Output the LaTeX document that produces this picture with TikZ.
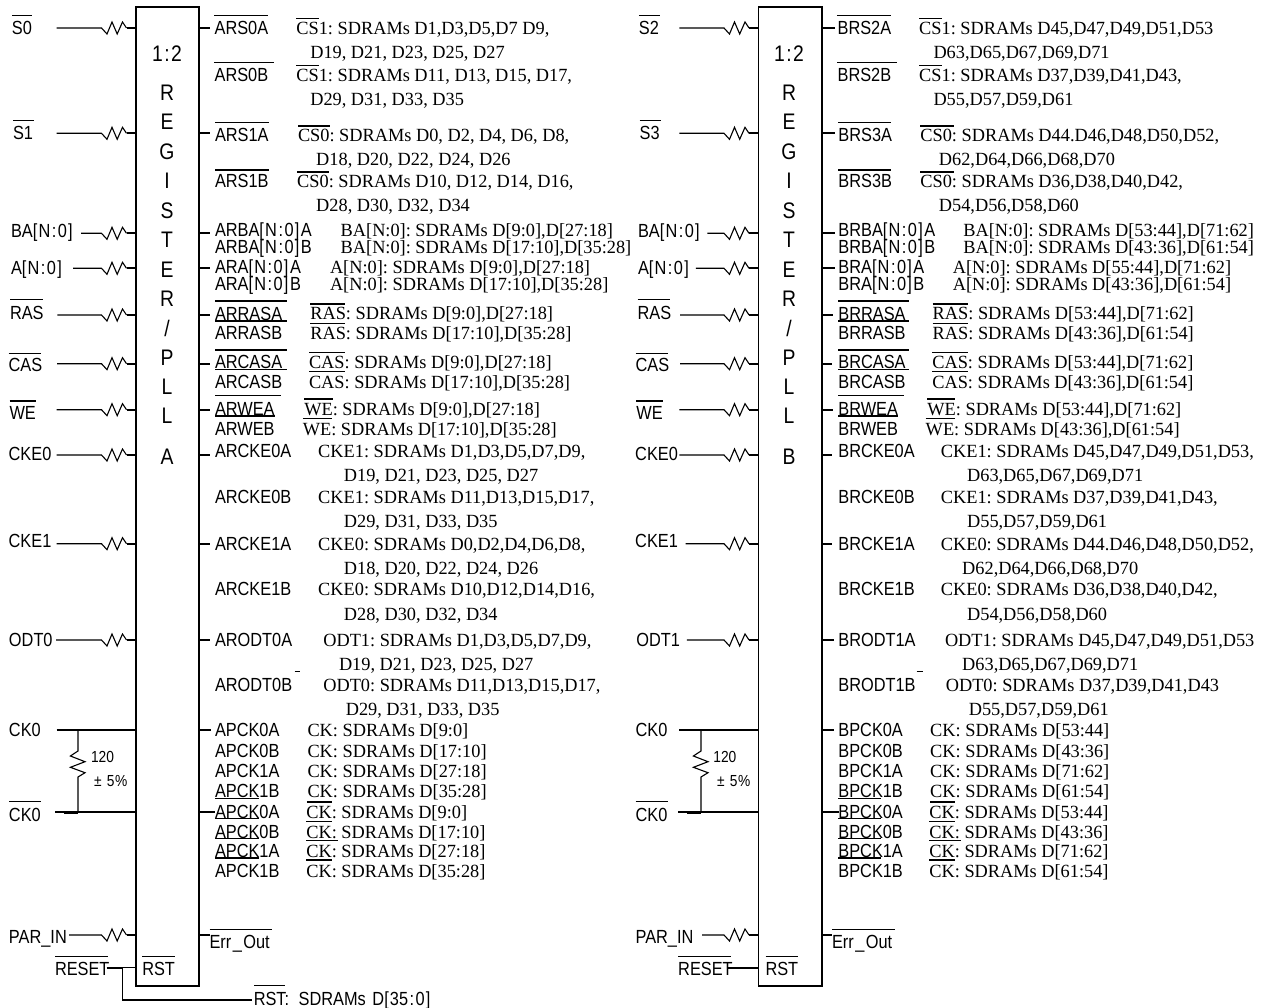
\documentclass[tikz,border=0pt]{standalone}
\usepackage{fontspec}
\usetikzlibrary{calc}
\setmainfont{Liberation Serif}
\newfontfamily\narrowfont[FakeStretch=0.86]{Liberation Sans}
\newfontfamily\serifnarrow[FakeStretch=0.985]{Liberation Serif}
\newcount\nodeidx
\newcommand{\NZ}{[\kern1.2pt N\kern1.5pt:\kern1.5pt0\kern1.2pt]\kern1.5pt}
\newcommand{\usc}{\kern1.5pt\_\kern1.5pt}
\tikzset{
  wirethin/.style={line width=1.1pt,draw=black},
  wirethick/.style={line width=1.7pt,draw=black},
  barline/.style={line width=1.2pt,draw=black},
  chipbox/.style={draw=black,line width=1.8pt,inner sep=0pt,outer sep=0pt,minimum width=63pt,minimum height=979pt},
  pinlab/.style={anchor=base west,inner sep=0pt,outer sep=0pt,font=\narrowfont\fontsize{19}{20}\selectfont},
  deslab/.style={anchor=base west,inner sep=0pt,outer sep=0pt,font=\frenchspacing\serifnarrow\fontsize{18.6}{20}\selectfont},
  chiplet/.style={anchor=base,inner sep=0pt,outer sep=0pt,font=\narrowfont\fontsize{22.5}{25}\selectfont},
  smalllab/.style={anchor=base west,inner sep=0pt,outer sep=0pt,font=\narrowfont\fontsize{16}{18}\selectfont}
}
\newcommand{\txS}[3]{\global\advance\nodeidx by 1 \node[pinlab] (n\the\nodeidx) at (#1,#2) {#3};}
\newcommand{\txR}[3]{\global\advance\nodeidx by 1 \node[deslab] (n\the\nodeidx) at (#1,#2) {#3};}
\newcommand{\txC}[3]{\global\advance\nodeidx by 1 \node[chiplet] (n\the\nodeidx) at (#1,#2) {#3};}
\newcommand{\txM}[3]{\global\advance\nodeidx by 1 \node[smalllab] (n\the\nodeidx) at (#1,#2) {#3};}
\newcommand{\ovl}[3]{\draw[barline] (#1,#3) -- (#2,#3);}
% input with resistor: name, x start, y, box
\newcommand{\inres}[4]{\coordinate (#1) at (#2,#3);
  \draw[wirethin] (#1) -- ($(#4.west |- #1)+(-34.5,0)$) -- ++(5.5,6) -- ++(5,-12) -- ++(5.2,12) -- ++(5.3,-12) -- ++(4,6) coordinate (#1e);
  \draw[wirethick] (#1e) -- (#4.west |- #1e);}
% output tick: name, x end, y, box
\newcommand{\outick}[4]{\coordinate (#1) at (#2,#3); \draw[wirethick] (#4.east |- #1) -- (#1);}
\begin{document}
\begin{tikzpicture}[x=1pt,y=-1pt]
\useasboundingbox (0,0) rectangle (1263,1008);
\node[chipbox] (rega) at (167.5,496.2) {};
\node[chipbox,minimum width=63.5pt] (regb) at (790.25,496.2) {};
% ------------ chip lettering
\foreach \t/\y in {1\kern1.5pt:\kern1.5pt2/61.7,R/100.7,E/129.3,G/159.3,I/188.7,S/218.3,T/247.3,E/277.3,R/306.7,{/}/336,P/365,L/394.3,L/423.3,A/464}{\txC{167}{\y}{\t}}
\foreach \t/\y in {1\kern1.5pt:\kern1.5pt2/61.7,R/100.7,E/129.3,G/159.3,I/188.7,S/218.3,T/247.3,E/277.3,R/306.7,{/}/336,P/365,L/394.3,L/423.3,B/464}{\txC{789}{\y}{\t}}
% ------------ A inputs
\inres{as0}{56.5}{28}{rega} \txS{12}{35}{S0} \ovl{12}{32.4}{15.7}
\inres{as1}{56.5}{133.3}{rega} \txS{13}{140}{S1} \ovl{13}{33.6}{120.7}
\inres{aba}{81}{233.3}{rega} \txS{11}{237.3}{BA\NZ}
\inres{aaa}{73}{268.3}{rega} \txS{11}{275}{A\NZ}
\inres{aras}{57.3}{315}{rega} \txS{10}{319}{RAS} \ovl{10}{42.7}{299.3}
\inres{acas}{57}{363.7}{rega} \txS{8.7}{371.7}{CAS} \ovl{8.7}{40.7}{353.7}
\inres{awe}{56.5}{409.7}{rega} \txS{9.5}{419.3}{WE} \ovl{9.5}{35.6}{401}
\inres{acke0}{56.5}{455}{rega} \txS{8.7}{460}{CKE0}
\inres{acke1}{56.5}{543.7}{rega} \txS{8.7}{547.3}{CKE1}
\inres{aodt}{56}{640}{rega} \txS{9}{646.7}{ODT0}
\inres{apar}{69}{935}{rega} \txS{9}{943}{PAR\_IN}
\coordinate (ack) at (56.5,730); \draw[wirethick] (ack) -- (rega.west |- ack); \txS{9}{736.7}{CK0}
\coordinate (ackb) at (55,812); \draw[wirethick] (ackb) -- (rega.west |- ackb); \txS{9}{821}{CK0} \ovl{9}{41}{801.7}
\draw[line width=2.4pt] (64,812.5) -- (78,812.5);
\coordinate (ark) at (78,730); \coordinate (arkb) at (78,812);
\draw[wirethin] (ark) -- (78,751) -- (70.4,756) -- (85,761.7) -- (70.4,767.3) -- (85,772.7) -- (78,777) -- (arkb);
\txM{91}{762.3}{120} \txM{94}{786.7}{±\kern1.5pt\ 5\kern.7pt\%}
\coordinate (arst) at (106.7,967.7); \txS{55}{975.7}{RESET} \ovl{55}{107.6}{956.7}
\coordinate (ajn) at (122.5,967.7); \coordinate (ajd) at (122.5,1000); \coordinate (arstout) at (251.8,1000);
\draw[wirethick] (arst) -- (ajn) -- (ajd) -- (arstout); \draw[wirethin] (ajn) -- (rega.west |- ajn);
\txS{142.3}{975.7}{RST} \ovl{142}{175}{956.7}
\txS{253.8}{1005}{RST:\kern5pt\ SDRAMs\kern2pt\ D[\kern1.2pt 35\kern1.5pt:\kern1.5pt0\kern1.2pt]} \ovl{254}{285}{985.7}
% ------------ A outputs
\outick{ao1}{210}{28}{rega} \outick{ao2}{210}{133.3}{rega} \outick{ao3}{210}{233.3}{rega} \outick{ao4}{210}{268.3}{rega}
\outick{ao5}{210}{315}{rega} \outick{ao6}{210}{363.7}{rega} \outick{ao7}{210}{409.7}{rega} \outick{ao8}{210}{455}{rega}
\outick{ao9}{210}{543.7}{rega} \outick{ao10}{210}{640}{rega} \outick{ao11}{211}{730}{rega} \outick{ao12}{215}{812}{rega} \outick{ao13}{209.5}{935}{rega}
\txS{214.6}{35}{ARS0A} \ovl{214}{267.6}{15.7}
\txR{296.4}{34.5}{CS1: SDRAMs D1,D3,D5,D7 D9,} \ovl{296.4}{319.4}{18.3}
\txR{310.3}{59}{D19, D21, D23, D25, D27}
\txS{214.6}{81.7}{ARS0B} \ovl{214}{273.5}{62.7}
\txR{296.4}{81.7}{CS1: SDRAMs D11, D13, D15, D17,} \ovl{296.4}{319.4}{65.7}
\txR{310.3}{106}{D29, D31, D33, D35}
\txS{215}{141.7}{ARS1A} \ovl{215}{268.8}{122.7}
\txR{298}{141.7}{CS0: SDRAMs D0, D2, D4, D6, D8,} \ovl{298}{330}{126}
\txR{316.2}{166}{D18, D20, D22, D24, D26}
\txS{215}{187.7}{ARS1B} \ovl{215}{268.8}{170}
\txR{297.2}{187.7}{CS0: SDRAMs D10, D12, D14, D16,} \ovl{297}{329}{172}
\txR{316.2}{212}{D28, D30, D32, D34}
\txS{215}{236.7}{ARBA\NZ A} \txR{340.7}{236.7}{BA[N:0]: SDRAMs D[9:0],D[27:18]}
\txS{215}{253.3}{ARBA\NZ B} \txR{340.7}{253.3}{BA[N:0]: SDRAMs D[17:10],D[35:28]}
\txS{215}{273.6}{ARA\NZ A} \txR{330}{273.6}{A[N:0]: SDRAMs D[9:0],D[27:18]}
\txS{215}{290.4}{ARA\NZ B} \txR{330}{290.4}{A[N:0]: SDRAMs D[17:10],D[35:28]}
\txS{215}{320}{ARRASA} \ovl{215}{286.5}{301} \ovl{215}{286.5}{321}
\txR{310.3}{319.5}{RAS: SDRAMs D[9:0],D[27:18]} \ovl{310.3}{345}{304} \ovl{310.3}{345}{323.3}
\txS{215}{339.3}{ARRASB} \txR{310.3}{339.3}{RAS: SDRAMs D[17:10],D[35:28]}
\txS{215}{368.3}{ARCASA} \ovl{215}{286.5}{350} \ovl{215}{286.5}{369.3}
\txR{309}{368.3}{CAS: SDRAMs D[9:0],D[27:18]} \ovl{309}{344.7}{352.7} \ovl{309}{344.7}{371.7}
\txS{215}{388.3}{ARCASB} \txR{309}{388.3}{CAS: SDRAMs D[17:10],D[35:28]}
\txS{215}{415}{ARWEA} \ovl{215}{281.4}{395.7} \ovl{215}{274.7}{416}
\txR{304.3}{415}{WE: SDRAMs D[9:0],D[27:18]} \ovl{304.3}{332.8}{399} \ovl{302.8}{332}{418.3}
\txS{215}{435}{ARWEB} \txR{302.8}{435}{WE: SDRAMs D[17:10],D[35:28]}
\txS{215}{457.7}{ARCKE0A} \txR{318.2}{457.7}{CKE1: SDRAMs D1,D3,D5,D7,D9,}
\txR{343.9}{481.7}{D19, D21, D23, D25, D27}
\txS{215}{503.3}{ARCKE0B} \txR{318.2}{503.3}{CKE1: SDRAMs D11,D13,D15,D17,}
\txR{343.9}{527.7}{D29, D31, D33, D35}
\txS{215}{550}{ARCKE1A} \txR{318.2}{550}{CKE0: SDRAMs D0,D2,D4,D6,D8,}
\txR{343.9}{574}{D18, D20, D22, D24, D26}
\txS{215}{595.7}{ARCKE1B} \txR{318.2}{595.7}{CKE0: SDRAMs D10,D12,D14,D16,}
\txR{343.9}{620}{D28, D30, D32, D34}
\txS{215}{646}{ARODT0A} \txR{323.3}{646}{ODT1: SDRAMs D1,D3,D5,D7,D9,}
\txR{339}{670}{D19, D21, D23, D25, D27} \ovl{294.5}{299.6}{671.7}
\txS{215}{691.7}{ARODT0B} \txR{323.3}{691.7}{ODT0: SDRAMs D11,D13,D15,D17,}
\txR{345.8}{715}{D29, D31, D33, D35}
\txS{215}{736.7}{APCK0A} \txR{307.5}{736.7}{CK: SDRAMs D[9:0]}
\txS{215}{757.3}{APCK0B} \txR{307.5}{757.3}{CK: SDRAMs D[17:10]}
\txS{215}{777.3}{APCK1A} \txR{307.5}{777.3}{CK: SDRAMs D[27:18]}
\txS{215}{797.3}{APCK1B} \txR{307.5}{797.3}{CK: SDRAMs D[35:28]} \ovl{215}{258.5}{798.7}
\txS{215}{818}{APCK0A} \txR{306.3}{818}{CK: SDRAMs D[9:0]} \ovl{215}{258.5}{818.7} \ovl{306.8}{332}{802} \ovl{306.3}{332}{821.3}
\txS{215}{838}{APCK0B} \txR{306.3}{838}{CK: SDRAMs D[17:10]} \ovl{215}{258.5}{838.5} \ovl{306.3}{338}{840.3}
\txS{215}{857.3}{APCK1A} \txR{306.3}{857.3}{CK: SDRAMs D[27:18]} \ovl{215}{258.5}{858} \ovl{306.3}{332}{860}
\txS{215}{877.3}{APCK1B} \txR{306.3}{877.3}{CK: SDRAMs D[35:28]}
\txS{209.5}{948.3}{Err\usc Out} \ovl{209.5}{272}{929.3}
% ------------ B inputs
\inres{bs0}{679.4}{28}{regb} \txS{638.9}{35}{S2} \ovl{638.9}{660.2}{15.7}
\inres{bs1}{679.4}{133.3}{regb} \txS{639.7}{140}{S3} \ovl{639.7}{661}{120.7}
\inres{bba}{707.3}{233.3}{regb} \txS{638}{237.3}{BA\NZ}
\inres{baa}{695.8}{268.3}{regb} \txS{638}{275}{A\NZ}
\inres{bras}{680}{315}{regb} \txS{637.6}{319}{RAS} \ovl{637.6}{670}{299.3}
\inres{bcas}{680}{363.7}{regb} \txS{635.6}{371.7}{CAS} \ovl{635.6}{668}{353.7}
\inres{bwe}{679.4}{409.7}{regb} \txS{636.4}{419.3}{WE} \ovl{636.4}{663}{401}
\inres{bcke0}{679.4}{455}{regb} \txS{635.2}{460}{CKE0}
\inres{bcke1}{685.6}{543.7}{regb} \txS{635.2}{547.3}{CKE1}
\inres{bodt}{686.8}{640}{regb} \txS{636.4}{646.7}{ODT1}
\inres{bpar}{702}{935}{regb} \txS{635.6}{943}{PAR\_IN}
\coordinate (bck) at (679.4,730); \draw[wirethick] (bck) -- (regb.west |- bck); \txS{635.6}{736.7}{CK0}
\coordinate (bckb) at (678,812); \draw[wirethick] (bckb) -- (regb.west |- bckb); \txS{635.6}{821}{CK0} \ovl{635.6}{668}{801.7}
\draw[line width=2.4pt] (686.8,812.5) -- (701,812.5);
\coordinate (brk) at (701,730); \coordinate (brkb) at (701,812);
\draw[wirethin] (brk) -- (701,751) -- (693.4,756) -- (708,761.7) -- (693.4,767.3) -- (708,772.7) -- (701,777) -- (brkb);
\txM{713.4}{762.3}{120} \txM{717}{786.7}{±\kern1.5pt\ 5\kern.7pt\%}
\coordinate (brst) at (727.4,967.7); \draw[wirethick] (brst) -- (regb.west |- brst); \txS{678.2}{975.7}{RESET} \ovl{678}{730.7}{956.7}
\txS{765.5}{975.7}{RST} \ovl{765.5}{797.5}{956.7}
% ------------ B outputs
\outick{bo1}{835}{28}{regb} \outick{bo2}{835}{133.3}{regb} \outick{bo3}{835}{233.3}{regb} \outick{bo4}{835}{268.3}{regb}
\outick{bo5}{833}{315}{regb} \outick{bo6}{832}{363.7}{regb} \outick{bo7}{833}{409.7}{regb} \outick{bo8}{832}{455}{regb}
\outick{bo9}{832}{543.7}{regb} \outick{bo10}{834.3}{640}{regb} \outick{bo11}{834}{730}{regb} \outick{bo12}{839}{812}{regb} \outick{bo13}{832}{935}{regb}
\txS{837.6}{35}{BRS2A} \ovl{836.8}{890.5}{15.7}
\txR{919.2}{34.5}{CS1: SDRAMs D45,D47,D49,D51,D53} \ovl{919.2}{941.7}{18.3}
\txR{933.5}{59}{D63,D65,D67,D69,D71}
\txS{837.6}{81.7}{BRS2B} \ovl{837}{896.6}{62.7}
\txR{919.2}{81.7}{CS1: SDRAMs D37,D39,D41,D43,} \ovl{919.2}{941.7}{65.7}
\txR{933.5}{106}{D55,D57,D59,D61}
\txS{838.4}{141.7}{BRS3A} \ovl{838.4}{891.3}{122.7}
\txR{920.4}{141.7}{CS0: SDRAMs D44.D46,D48,D50,D52,} \ovl{920.4}{954}{126}
\txR{938.9}{166}{D62,D64,D66,D68,D70}
\txS{838.4}{187.7}{BRS3B} \ovl{838.4}{891.3}{170}
\txR{920.4}{187.7}{CS0: SDRAMs D36,D38,D40,D42,} \ovl{920.4}{954}{172}
\txR{938.9}{212}{D54,D56,D58,D60}
\txS{838.4}{236.7}{BRBA\NZ A} \txR{963.4}{236.7}{BA[N:0]: SDRAMs D[53:44],D[71:62]}
\txS{838.4}{253.3}{BRBA\NZ B} \txR{963.4}{253.3}{BA[N:0]: SDRAMs D[43:36],D[61:54]}
\txS{838.4}{273.6}{BRA\NZ A} \txR{952.8}{273.6}{A[N:0]: SDRAMs D[55:44],D[71:62]}
\txS{838.4}{290.4}{BRA\NZ B} \txR{952.8}{290.4}{A[N:0]: SDRAMs D[43:36],D[61:54]}
\txS{838.4}{320}{BRRASA} \ovl{838.4}{909.3}{301} \ovl{838.4}{909.3}{321}
\txR{932.7}{319.5}{RAS: SDRAMs D[53:44],D[71:62]} \ovl{932.7}{968.4}{304} \ovl{932.7}{968.4}{323.3}
\txS{838.4}{339.3}{BRRASB} \txR{932.7}{339.3}{RAS: SDRAMs D[43:36],D[61:54]}
\txS{838.4}{368.3}{BRCASA} \ovl{838.4}{909.3}{350} \ovl{838.4}{909.3}{369.3}
\txR{932.3}{368.3}{CAS: SDRAMs D[53:44],D[71:62]} \ovl{932.3}{968}{352.7} \ovl{932.3}{968}{371.7}
\txS{838.4}{388.3}{BRCASB} \txR{932.3}{388.3}{CAS: SDRAMs D[43:36],D[61:54]}
\txS{838.4}{415}{BRWEA} \ovl{838.4}{903.6}{395.7} \ovl{838.4}{897.5}{416}
\txR{927.4}{415}{WE: SDRAMs D[53:44],D[71:62]} \ovl{927.4}{955.2}{399} \ovl{925.7}{955}{418.3}
\txS{838.4}{435}{BRWEB} \txR{925.7}{435}{WE: SDRAMs D[43:36],D[61:54]}
\txS{838.4}{457.7}{BRCKE0A} \txR{940.9}{457.7}{CKE1: SDRAMs D45,D47,D49,D51,D53,}
\txR{967.1}{481.7}{D63,D65,D67,D69,D71}
\txS{838.4}{503.3}{BRCKE0B} \txR{940.9}{503.3}{CKE1: SDRAMs D37,D39,D41,D43,}
\txR{967.1}{527.7}{D55,D57,D59,D61}
\txS{838.4}{550}{BRCKE1A} \txR{940.9}{550}{CKE0: SDRAMs D44.D46,D48,D50,D52,}
\txR{962.2}{574}{D62,D64,D66,D68,D70}
\txS{838.4}{595.7}{BRCKE1B} \txR{940.9}{595.7}{CKE0: SDRAMs D36,D38,D40,D42,}
\txR{967.1}{620}{D54,D56,D58,D60}
\txS{838.4}{646}{BRODT1A} \txR{945}{646}{ODT1: SDRAMs D45,D47,D49,D51,D53}
\txR{962.2}{670}{D63,D65,D67,D69,D71} \ovl{916.7}{922.5}{671.7}
\txS{838.4}{691.7}{BRODT1B} \txR{945.8}{691.7}{ODT0: SDRAMs D37,D39,D41,D43}
\txR{968.8}{715}{D55,D57,D59,D61}
\txS{838.4}{736.7}{BPCK0A} \txR{930.2}{736.7}{CK: SDRAMs D[53:44]}
\txS{838.4}{757.3}{BPCK0B} \txR{930.2}{757.3}{CK: SDRAMs D[43:36]}
\txS{838.4}{777.3}{BPCK1A} \txR{930.2}{777.3}{CK: SDRAMs D[71:62]}
\txS{838.4}{797.3}{BPCK1B} \txR{930.2}{797.3}{CK: SDRAMs D[61:54]} \ovl{838.4}{880.7}{798.7}
\txS{838.4}{818}{BPCK0A} \txR{929.4}{818}{CK: SDRAMs D[53:44]} \ovl{838.4}{880.7}{818.7} \ovl{930}{955}{802} \ovl{929.4}{955}{821.3}
\txS{838.4}{838}{BPCK0B} \txR{929.4}{838}{CK: SDRAMs D[43:36]} \ovl{838.4}{880.7}{838.5} \ovl{929.4}{961}{840.3}
\txS{838.4}{857.3}{BPCK1A} \txR{929.4}{857.3}{CK: SDRAMs D[71:62]} \ovl{838.4}{880.7}{858} \ovl{929.4}{955}{860}
\txS{838.4}{877.3}{BPCK1B} \txR{929.4}{877.3}{CK: SDRAMs D[61:54]}
\txS{832}{948.3}{Err\usc Out} \ovl{832}{894.6}{929.3}
\end{tikzpicture}
\end{document}
